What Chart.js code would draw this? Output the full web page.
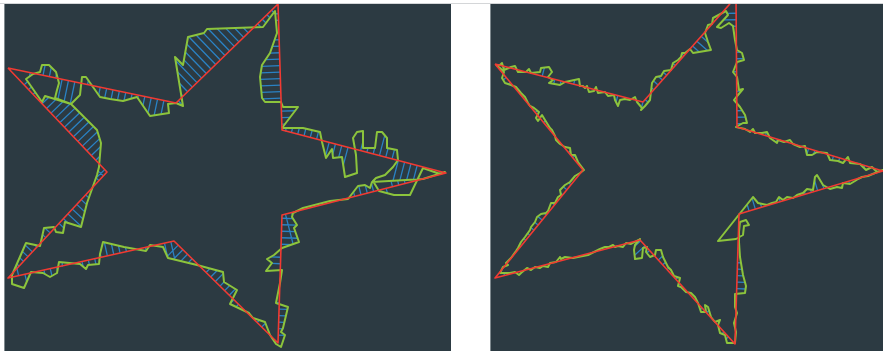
<!DOCTYPE html>
<html>
<head>
<meta charset="utf-8">
<title>Star outline deviation</title>
<script src="https://cdn.jsdelivr.net/npm/chart.js@4/dist/chart.umd.min.js"></script>
<style>
  html, body { margin: 0; padding: 0; background: #ffffff; width: 883px; height: 352px; overflow: hidden; }
  body { position: relative; }
  .rule { position: absolute; left: 0; top: 3px; width: 883px; height: 1px; background: #d4d6d8; }
  .panel { position: absolute; top: 4px; height: 347px; background: #2c3a42; }
  .panel::before { content: ''; position: absolute; left: 0; top: 0; bottom: 0; width: 1px; background: #7f898e; }
  .panel canvas { position: absolute; left: 0; top: 0; }
  #p1 { left: 4px; width: 447px; }
  #p2 { left: 490px; width: 393px; }
</style>
</head>
<body>
<div class="rule"></div>
<div class="panel" id="p1"><canvas id="c1" width="447" height="347"></canvas></div>
<div class="panel" id="p2"><canvas id="c2" width="393" height="347"></canvas></div>
<script>
// Plot extents (same unit on both axes, y grows downward)
const leftExtent = [447, 347];
const rightExtent = [393, 347];

// Reference star, left plot
const leftStar = [
  [4, 64], [172, 99], [274, 0], [278, 126], [442, 169],
  [278, 211], [274, 339], [170, 237], [4, 274], [103, 168]
];

// Traced outline, left plot (coarse)
const leftTrace = [
  [278, 124], [299, 124], [316, 128], [318, 138], [322, 154], [328, 145], [329, 154], [338, 153],
  [341, 173], [353, 169], [352, 151], [349, 134], [353, 128], [359, 127], [359, 144], [371, 144],
  [373, 128], [378, 128], [383, 134], [383, 144], [393, 146], [394, 156], [389, 163], [381, 171],
  [372, 174], [369, 177], [375, 187], [390, 191], [406, 191], [419, 164], [436, 170], [441, 168],
  [419, 175], [368, 178], [366, 184], [361, 181], [354, 182], [344, 195], [326, 197], [299, 204],
  [289, 209], [288, 213], [293, 221], [290, 224], [295, 238], [278, 244], [270, 251], [263, 255],
  [268, 259], [262, 267], [278, 266], [276, 279], [272, 299], [284, 303], [279, 324], [277, 328],
  [281, 331], [277, 343], [272, 340], [266, 331], [261, 318], [249, 314], [245, 309], [226, 300],
  [233, 286], [220, 278], [219, 268], [193, 261], [164, 254], [159, 243], [146, 241], [142, 247],
  [120, 243], [99, 238], [96, 250], [95, 260], [84, 261], [82, 265], [76, 260], [55, 258],
  [53, 269], [46, 273], [39, 269], [27, 268], [20, 284], [8, 280], [8, 271], [22, 239],
  [36, 242], [40, 224], [50, 223], [52, 228], [59, 229], [61, 218], [77, 223], [83, 199],
  [93, 171], [95, 163], [97, 139], [93, 126], [67, 100], [41, 92], [38, 98], [22, 75],
  [29, 70], [36, 68], [38, 61], [45, 61], [52, 68], [55, 79], [53, 86], [51, 94],
  [67, 100], [76, 91], [78, 73], [82, 73], [89, 83], [96, 93], [106, 95], [119, 97],
  [133, 93], [146, 112], [165, 109], [164, 100], [172, 99], [179, 102], [171, 53], [179, 61],
  [184, 33], [200, 29], [203, 25], [259, 23], [271, 7], [273, 29], [266, 49], [258, 61],
  [256, 73], [258, 94], [261, 98], [277, 98], [279, 103], [294, 103]
];

// Reference star, right plot
const rightStar = [
  [5, 60], [153, 98], [246, -7], [247, 123], [393, 167],
  [249, 210], [245, 340], [150, 236], [5, 274], [93, 166]
];

// Traced outline, right plot (fine)
const rightTrace = [
  [6, 61], [10, 61], [12, 59], [14, 66], [21, 63], [25, 62], [28, 68], [36, 68],
  [39, 65], [41, 69], [50, 68], [51, 64], [59, 63], [62, 68], [58, 73], [63, 76],
  [59, 79], [70, 81], [75, 78], [89, 75], [90, 82], [93, 82], [95, 84], [97, 82],
  [99, 88], [104, 87], [106, 83], [108, 89], [115, 88], [118, 92], [124, 91], [125, 96],
  [128, 102], [130, 96], [135, 95], [140, 96], [145, 93], [147, 98], [152, 104], [151, 106],
  [155, 102], [160, 96], [162, 79], [166, 73], [171, 72], [174, 67], [181, 66], [183, 59],
  [188, 56], [191, 53], [192, 49], [195, 49], [200, 45], [203, 49], [221, 46], [218, 38],
  [215, 29], [218, 21], [222, 20], [223, 14], [236, 7], [238, 11], [227, 23], [231, 24],
  [239, 19], [243, 22], [245, 36], [247, 46], [252, 49], [254, 56], [247, 58], [243, 68],
  [247, 73], [249, 86], [253, 85], [248, 91], [244, 96], [250, 103], [255, 111], [257, 119],
  [253, 119], [246, 123], [255, 125], [260, 128], [263, 125], [265, 129], [272, 129], [277, 128],
  [280, 134], [287, 139], [288, 136], [294, 138], [300, 136], [303, 140], [310, 143], [315, 142],
  [317, 151], [322, 151], [327, 148], [337, 149], [340, 156], [348, 157], [353, 159], [358, 153],
  [360, 159], [370, 160], [376, 166], [382, 163], [387, 168], [393, 166], [385, 169], [378, 172],
  [372, 173], [368, 175], [365, 177], [360, 180], [353, 179], [352, 184], [347, 183], [340, 185],
  [333, 181], [327, 171], [325, 173], [323, 186], [317, 185], [315, 187], [313, 189], [307, 191],
  [303, 194], [297, 193], [293, 196], [289, 193], [286, 198], [282, 199], [277, 201], [268, 199],
  [263, 193], [228, 237], [246, 235], [253, 231], [254, 222], [259, 221], [256, 216], [250, 218],
  [249, 228], [249, 238], [250, 253], [251, 259], [253, 271], [256, 282], [255, 289], [245, 290],
  [245, 303], [247, 309], [244, 319], [246, 328], [245, 339], [237, 339], [235, 331], [230, 329],
  [228, 321], [230, 316], [225, 318], [221, 313], [218, 303], [215, 301], [216, 308], [211, 308],
  [208, 299], [205, 293], [201, 289], [196, 288], [191, 283], [188, 282], [190, 274], [184, 272],
  [181, 266], [178, 263], [173, 253], [171, 246], [166, 246], [165, 251], [160, 253], [156, 248],
  [157, 243], [153, 244], [152, 254], [145, 255], [144, 246], [145, 241], [150, 235], [141, 240],
  [136, 239], [133, 243], [128, 242], [125, 243], [123, 241], [119, 243], [115, 243], [110, 245],
  [106, 247], [98, 251], [83, 254], [75, 253], [71, 255], [70, 253], [66, 258], [60, 259],
  [58, 263], [53, 262], [50, 264], [45, 263], [41, 266], [37, 264], [31, 269], [29, 271],
  [25, 268], [20, 269], [15, 269], [10, 269], [13, 263], [18, 261], [16, 259], [21, 254],
  [26, 247], [28, 244], [31, 238], [35, 233], [40, 226], [41, 223], [45, 218], [47, 213],
  [51, 210], [56, 209], [58, 207], [61, 199], [65, 199], [68, 193], [71, 191], [70, 186],
  [75, 181], [80, 178], [85, 172], [90, 169], [94, 166], [91, 162], [88, 158], [85, 151],
  [81, 151], [80, 144], [75, 143], [70, 140], [66, 136], [65, 132], [62, 126], [60, 124],
  [55, 116], [52, 111], [48, 117], [46, 114], [49, 108], [44, 104], [40, 102], [38, 99],
  [35, 93], [31, 89], [26, 83], [21, 81], [15, 79], [12, 74], [14, 68], [10, 64]
];

const RED = '#f23a32';
const GREEN = '#8cc43c';
const BLUE = '#2a82c4';

const closeRing = pts => pts.concat([pts[0]]);

// Hatch strokes: from points along each star edge, along the edge normal,
// to the nearest crossing with the traced outline.
function deviationHatch(star, trace, step, minLen, maxLen) {
  const ring = closeRing(trace);
  const segs = [];
  for (let i = 0; i < star.length; i++) {
    const a = star[i], b = star[(i + 1) % star.length];
    const dx = b[0] - a[0], dy = b[1] - a[1];
    const L = Math.hypot(dx, dy);
    const ux = dx / L, uy = dy / L, nx = -uy, ny = ux;
    for (let s = step / 2; s < L; s += step) {
      const px = a[0] + ux * s, py = a[1] + uy * s;
      let best = Infinity;
      for (let j = 0; j < ring.length - 1; j++) {
        const c = ring[j], d = ring[j + 1];
        const ex = d[0] - c[0], ey = d[1] - c[1];
        const den = nx * ey - ny * ex;
        if (Math.abs(den) < 1e-9) continue;
        const wx = c[0] - px, wy = c[1] - py;
        const t = (wx * ey - wy * ex) / den;
        const u = (wx * ny - wy * nx) / den;
        if (u < 0 || u > 1) continue;
        if (Math.abs(t) < Math.abs(best)) best = t;
      }
      if (isFinite(best) && Math.abs(best) >= minLen && Math.abs(best) <= maxLen) {
        segs.push([[px, py], [px + nx * best, py + ny * best]]);
      }
    }
  }
  return segs;
}

function drawPanel(canvasId, star, trace, extent) {
  const toXY = pts => pts.map(p => ({ x: p[0], y: p[1] }));
  const hatch = [];
  deviationHatch(star, trace, 6.5, 2.5, 48).forEach(([p, q]) => {
    hatch.push({ x: p[0], y: p[1] }, { x: q[0], y: q[1] }, { x: null, y: null });
  });
  const line = (label, data, color, width) => ({
    label, data, showLine: true, borderColor: color, backgroundColor: color,
    borderWidth: width, pointRadius: 0, pointHoverRadius: 0, tension: 0,
    fill: false, spanGaps: false, clip: 0, borderJoinStyle: 'round'
  });
  new Chart(document.getElementById(canvasId), {
    type: 'scatter',
    data: {
      datasets: [
        line('Star', toXY(closeRing(star)), RED, 1.6),
        line('Outline', toXY(closeRing(trace)), GREEN, 2),
        line('Deviation', hatch, BLUE, 1.3)
      ]
    },
    options: {
      responsive: false,
      animation: false,
      events: [],
      layout: { padding: 0 },
      plugins: { legend: { display: false }, tooltip: { enabled: false } },
      scales: {
        x: { type: 'linear', min: 0, max: extent[0], display: false },
        y: { type: 'linear', min: 0, max: extent[1], reverse: true, display: false }
      }
    }
  });
}

drawPanel('c1', leftStar, leftTrace, leftExtent);
drawPanel('c2', rightStar, rightTrace, rightExtent);
</script>
</body>
</html>
